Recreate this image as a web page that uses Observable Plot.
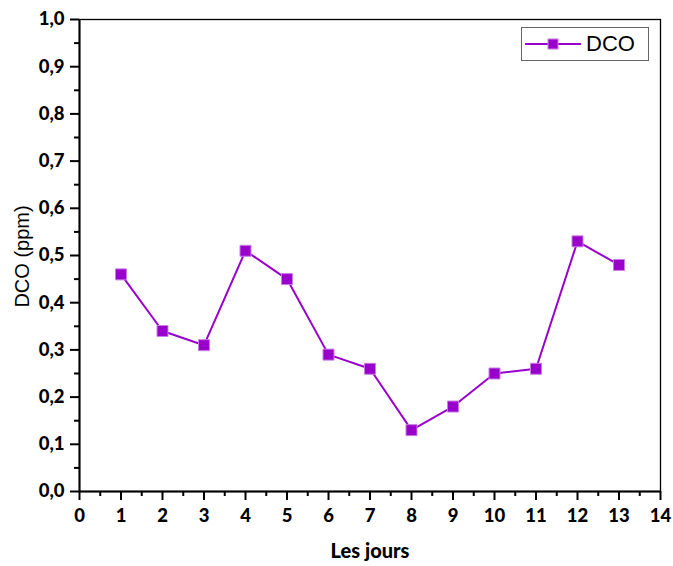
<!DOCTYPE html>
<html>
<head>
<meta charset="utf-8">
<script src="https://cdn.jsdelivr.net/npm/d3@7"></script>
<script src="https://cdn.jsdelivr.net/npm/@observablehq/plot@0.6"></script>
<style>
  html, body { margin: 0; padding: 0; background: #fff; }
  #wrap { position: relative; width: 673px; height: 566px; }
  #legend {
    position: absolute; left: 521px; top: 27px; width: 126px; height: 32px;
    border: 1px solid #666; box-sizing: content-box; display: flex; align-items: center;
    font-family: "Liberation Sans", Arial, sans-serif; font-size: 22px; color: #000;
  }
  #legend svg { margin-left: 3px; margin-right: 5px; }
</style>
</head>
<body>
<div id="wrap">
  <div id="chart"></div>
  <div id="legend"></div>
</div>
<script>
const days = [1, 2, 3, 4, 5, 6, 7, 8, 9, 10, 11, 12, 13];
const dco = [0.46, 0.34, 0.31, 0.51, 0.45, 0.29, 0.26, 0.13, 0.18, 0.25, 0.26, 0.53, 0.48];
const xTicks = d3.range(0, 15, 1);
const xMinor = d3.range(0.5, 14, 1);
const yTicks = d3.range(0, 11).map(i => i / 10);
const yMinor = d3.range(0, 10).map(i => i / 10 + 0.05);
const seriesName = "DCO";
const xLabel = "Les jours";
const yLabel = "DCO (ppm)";
const color = "#9900cc";

const data = days.map((d, i) => ({day: d, value: dco[i]}));
const fmt = d => d.toFixed(1).replace(".", ",");
const tickFont = {fontFamily: "Lato, 'Open Sans', sans-serif", fontWeight: 900, fontSize: 18.5};

const chart = Plot.plot({
  width: 673,
  height: 566,
  marginLeft: 79,
  marginRight: 13,
  marginTop: 19,
  marginBottom: 75,
  style: {background: "#fff", color: "#000"},
  x: {domain: [0, 14]},
  y: {domain: [0, 1]},
  marks: [
    Plot.axisX({ticks: xTicks, tickSize: 9, tickPadding: 8, strokeWidth: 2, tickFormat: d => String(d),
      ...tickFont, label: null}),
    Plot.axisX({ticks: xMinor, tickSize: 5, strokeWidth: 2, tickFormat: null, label: null, text: null}),
    Plot.axisY({ticks: yTicks, tickSize: 9, tickPadding: 6, strokeWidth: 2, tickFormat: fmt,
      ...tickFont, label: null}),
    Plot.axisY({ticks: yMinor, tickSize: 5, strokeWidth: 2, tickFormat: null, label: null, text: null}),
    Plot.text([yLabel], {frameAnchor: "left", textAnchor: "middle", dx: -57, dy: 1, rotate: -90,
      fontFamily: "'Liberation Sans', Arial, sans-serif", fontSize: 20, fontWeight: "normal"}),
    Plot.text([xLabel], {frameAnchor: "bottom", textAnchor: "middle", dy: 66,
      fontFamily: "Lato, 'Open Sans', sans-serif", fontSize: 20, fontWeight: 900}),
    Plot.frame({stroke: "#000", strokeWidth: 1.3}),
    Plot.ruleX([0], {stroke: "#000", strokeWidth: 2}),
    Plot.ruleY([0], {stroke: "#000", strokeWidth: 2}),
    Plot.line(data, {x: "day", y: "value", stroke: color, strokeWidth: 2}),
    Plot.dot(data, {x: "day", y: "value", symbol: "square", r: 6.2, fill: color, stroke: "#c77de6", strokeWidth: 1})
  ]
});

document.getElementById("chart").appendChild(chart);

// legend
const leg = document.getElementById("legend");
leg.innerHTML = `<svg width="56" height="20"><line x1="0" y1="10" x2="56" y2="10" stroke="${color}" stroke-width="2"/><rect x="23" y="5" width="10" height="10" fill="${color}" stroke="#c77de6" stroke-width="1"/></svg><span>${seriesName}</span>`;
</script>
</body>
</html>
